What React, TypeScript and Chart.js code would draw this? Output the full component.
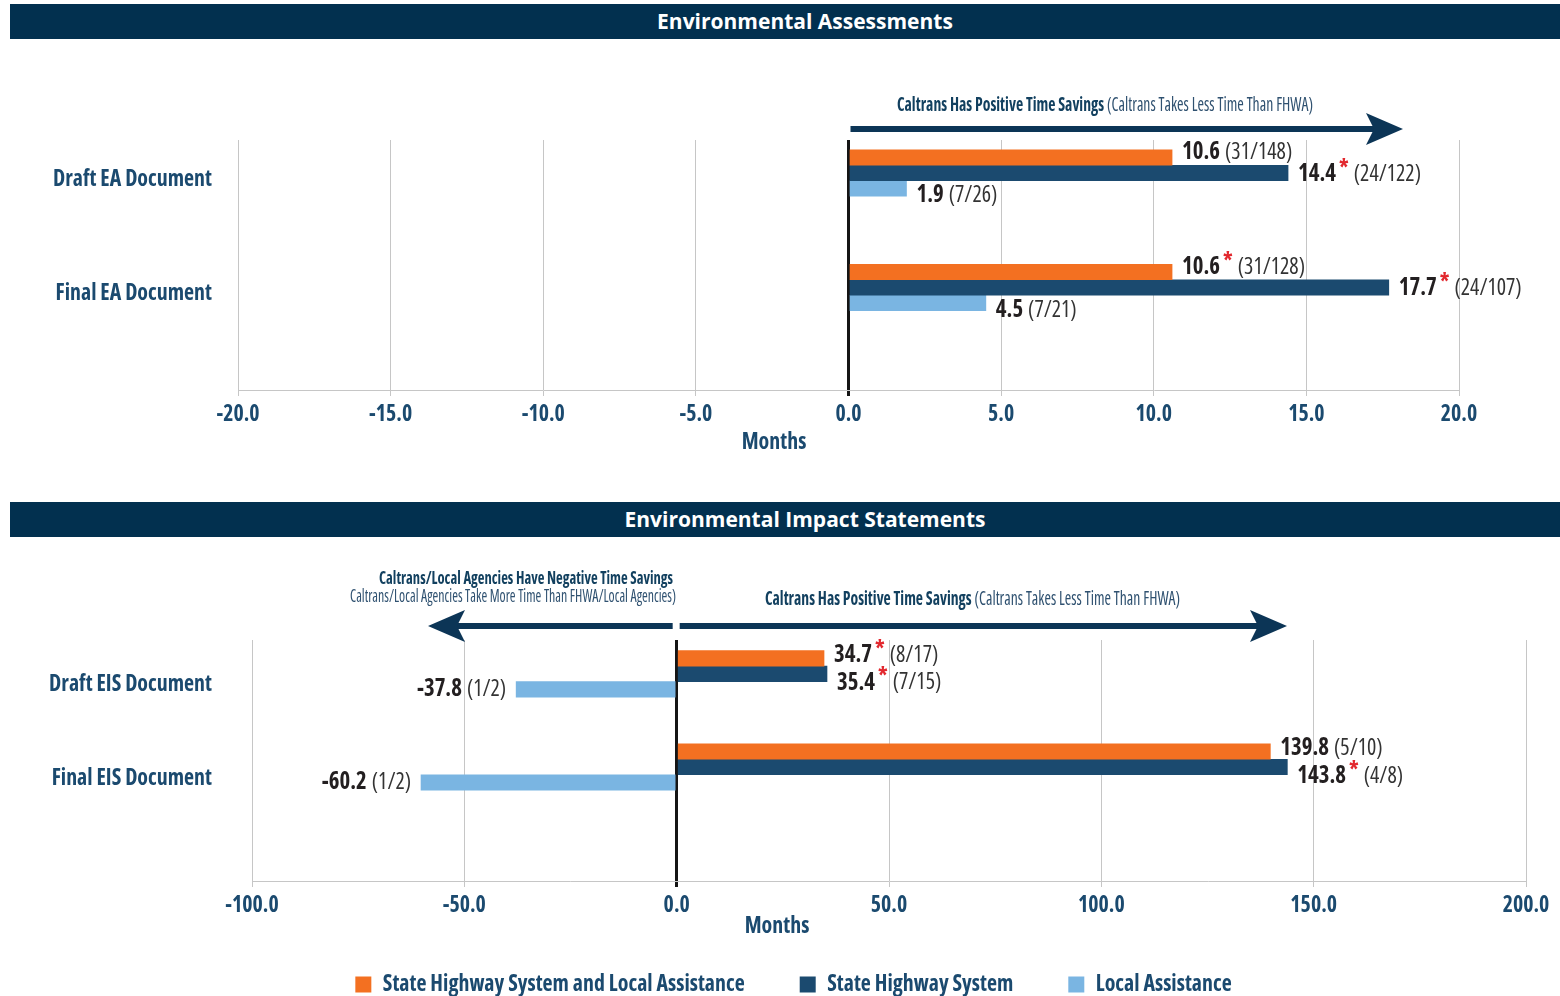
import React, { useEffect, useRef } from 'react';
import { Chart, registerables } from 'chart.js';

Chart.register(...registerables);

const BASE = "'Open Sans', 'Noto Sans', 'DejaVu Sans', sans-serif";

// detect a real condensed face (variable width axis) and compute horizontal squeeze
function detectFontSetup() {
  let stretch = '';
  let sx = 0.75;
  try {
    const c = document.createElement('canvas').getContext('2d') as CanvasRenderingContext2D;
    c.font = `bold 23px ${BASE}`;
    const w = c.measureText('Draft EA Document').width;
    c.font = `bold condensed 23px ${BASE}`;
    const wc = c.measureText('Draft EA Document').width;
    if (wc > 0 && wc < w * 0.95) stretch = 'condensed ';
    const used = stretch ? wc : w;
    if (used > 0) sx = 159 / used;
  } catch (e) {
    /* keep defaults */
  }
  return { stretch, sx };
}
const FONT_SETUP = detectFontSetup();
const STRETCH = FONT_SETUP.stretch;
const SX = FONT_SETUP.sx;
const BOLD_W = `bold ${STRETCH}`.trim();

const bold = (s: number) => `bold ${STRETCH}${s}px ${BASE}`;
const reg = (s: number) => `${STRETCH}${s}px ${BASE}`;

// ---------- shared series ----------
const seriesNames = ['State Highway System and Local Assistance', 'State Highway System', 'Local Assistance'];
const seriesColors = ['#f37021', '#1b4a6f', '#7ab5e2'];

// ---------- Environmental Assessments ----------
const eaCategories = ['Draft EA Document', 'Final EA Document'];
const eaSHSLA = [10.6, 10.6];
const eaSHS = [14.4, 17.7];
const eaLA = [1.9, 4.5];
const eaSHSLACounts = ['(31/148)', '(31/128)'];
const eaSHSCounts = ['(24/122)', '(24/107)'];
const eaLACounts = ['(7/26)', '(7/21)'];
const eaSHSLASig = [false, true];
const eaSHSSig = [true, true];
const eaLASig = [false, false];
const eaAxisMin = -20;
const eaAxisMax = 20;
const eaAxisStep = 5;

// ---------- Environmental Impact Statements ----------
const eisCategories = ['Draft EIS Document', 'Final EIS Document'];
const eisSHSLA = [34.7, 139.8];
const eisSHS = [35.4, 143.8];
const eisLA = [-37.8, -60.2];
const eisSHSLACounts = ['(8/17)', '(5/10)'];
const eisSHSCounts = ['(7/15)', '(4/8)'];
const eisLACounts = ['(1/2)', '(1/2)'];
const eisSHSLASig = [true, false];
const eisSHSSig = [true, true];
const eisLASig = [false, false];
const eisAxisMin = -100;
const eisAxisMax = 200;
const eisAxisStep = 50;

const TEXT_NAVY = '#1b4a6f';
const CAPTION_NAVY = '#12405f';
const LABEL_DARK = '#231f20';
const STAR_RED = '#e2282e';

// horizontally condense every text drawn on a chart canvas
function condenseContext(ctx: any, sx: number) {
  if (ctx.__condensed) return;
  ctx.__condensed = true;
  const origFill = ctx.fillText.bind(ctx);
  const origMeasure = ctx.measureText.bind(ctx);
  ctx.fillText = (text: string, x: number, y: number) => {
    ctx.save();
    ctx.translate(x, y);
    ctx.scale(sx, 1);
    origFill(text, 0, 0);
    ctx.restore();
  };
  ctx.measureText = (text: string) => {
    const m = origMeasure(text);
    return {
      width: m.width * sx,
      actualBoundingBoxAscent: m.actualBoundingBoxAscent,
      actualBoundingBoxDescent: m.actualBoundingBoxDescent,
      actualBoundingBoxLeft: m.actualBoundingBoxLeft * sx,
      actualBoundingBoxRight: m.actualBoundingBoxRight * sx,
      fontBoundingBoxAscent: m.fontBoundingBoxAscent,
      fontBoundingBoxDescent: m.fontBoundingBoxDescent,
    };
  };
}

type Part = { text: string; font: string; color: string; dx?: number; dy?: number };

function drawRich(ctx: CanvasRenderingContext2D, parts: Part[], x: number, y: number, align: 'left' | 'right' | 'center', width?: number) {
  ctx.save();
  ctx.textBaseline = 'middle';
  ctx.textAlign = 'left';
  let total = 0;
  const widths = parts.map((p) => {
    ctx.font = p.font;
    const w = ctx.measureText(p.text).width;
    total += w + (p.dx || 0);
    return w;
  });
  const k = width ? width / total : 1;
  const realW = total * k;
  let start = x;
  if (align === 'right') start = x - realW;
  if (align === 'center') start = x - realW / 2;
  ctx.translate(start, y);
  ctx.scale(k, 1);
  let cx = 0;
  parts.forEach((p, i) => {
    cx += p.dx || 0;
    ctx.font = p.font;
    ctx.fillStyle = p.color;
    ctx.fillText(p.text, cx, p.dy || 0);
    cx += widths[i];
  });
  ctx.restore();
}

const barLabelPlugin = {
  id: 'barLabels',
  afterDatasetsDraw(chart: any, _args: any, opts: any) {
    const ctx = chart.ctx as CanvasRenderingContext2D;
    chart.data.datasets.forEach((ds: any, di: number) => {
      const meta = chart.getDatasetMeta(di);
      meta.data.forEach((bar: any, i: number) => {
        const v = ds.data[i].x as number;
        const parts: Part[] = [{ text: v.toFixed(1), font: bold(24), color: LABEL_DARK }];
        const sig = opts.sig[di][i];
        if (sig) parts.push({ text: '*', font: bold(23), color: STAR_RED, dx: 3, dy: -5 });
        parts.push({ text: opts.counts[di][i], font: reg(23), color: '#333333', dx: 5 });
        const y = bar.y + opts.dy[di];
        if (v >= 0) drawRich(ctx, parts, bar.x + 10, y, 'left');
        else drawRich(ctx, parts, bar.x - 10, y, 'right');
      });
    });
  },
};

function drawArrow(ctx: CanvasRenderingContext2D, x1: number, x2: number, y: number, color: string) {
  const dir = x2 > x1 ? 1 : -1;
  const headLen = 37;
  const inner = 29;
  const half = 16;
  ctx.save();
  ctx.fillStyle = color;
  ctx.fillRect(Math.min(x1, x2 - dir * inner), y - 3, Math.abs(x2 - dir * inner - x1), 6);
  ctx.beginPath();
  ctx.moveTo(x2, y);
  ctx.lineTo(x2 - dir * headLen, y - half);
  ctx.lineTo(x2 - dir * inner, y);
  ctx.lineTo(x2 - dir * headLen, y + half);
  ctx.closePath();
  ctx.fill();
  ctx.restore();
}

const decorPlugin = {
  id: 'decor',
  afterDraw(chart: any, _args: any, opts: any) {
    const ctx = chart.ctx as CanvasRenderingContext2D;
    const x0 = chart.scales.x.getPixelForValue(0);
    (opts.arrows || []).forEach((a: any) => {
      drawArrow(ctx, x0 + a.fromZero, a.tip, a.y, '#0c3556');
    });
    (opts.captions || []).forEach((c: any) => {
      drawRich(ctx, c.parts, c.x, c.y, c.align, c.width);
    });
    if (opts.months) {
      drawRich(ctx, [{ text: 'Months', font: bold(23), color: TEXT_NAVY }], opts.months.x, chart.chartArea.bottom + opts.months.dy, 'center');
    }
  },
};

type Panel = {
  categories: string[];
  series: number[][];
  counts: string[][];
  sig: boolean[][];
  min: number;
  max: number;
  step: number;
  yMin: number;
  yMax: number;
  padTop: number;
  padRight: number;
  padLeft: number;
  rightGutter: number;
  yAxisWidth: number;
  yLabelPad: number;
  yLabelOffset: number;
  xAxisHeight: number;
  labelDy: number[];
  legend: boolean;
  decor: any;
};

function makeConfig(p: Panel): any {
  const scales: any = {
    x: {
      type: 'linear',
      min: p.min,
      max: p.max,
      ticks: {
        stepSize: p.step,
        callback: (v: any) => Number(v).toFixed(1),
        font: { family: BASE, size: 23, weight: BOLD_W },
        color: TEXT_NAVY,
        padding: 5,
        maxRotation: 0,
      },
      grid: {
        color: (c: any) => (c.tick && c.tick.value === 0 ? '#151515' : '#c6c6c6'),
        lineWidth: (c: any) => (c.tick && c.tick.value === 0 ? 3 : 1),
        tickLength: 6,
      },
      border: { display: true, color: '#c6c6c6', width: 1 },
      afterFit: (s: any) => {
        s.height = p.xAxisHeight;
      },
    },
    y: {
      type: 'linear',
      reverse: true,
      offset: false,
      min: p.yMin,
      max: p.yMax,
      afterBuildTicks: (s: any) => {
        s.ticks = p.categories.map((_, i) => ({ value: i + 1 }));
      },
      ticks: {
        autoSkip: false,
        callback: (v: any) => p.categories[Math.round(Number(v)) - 1] || '',
        font: { family: BASE, size: 23, weight: BOLD_W },
        color: TEXT_NAVY,
        padding: p.yLabelPad,
        labelOffset: p.yLabelOffset,
      },
      grid: { display: false, drawTicks: false, offset: false },
      border: { display: false },
      afterFit: (s: any) => {
        s.width = p.yAxisWidth;
      },
    },
  };
  if (p.rightGutter > 0) {
    // empty right-hand gutter so the legend can be centred independently of the plot
    scales.gutter = {
      type: 'linear',
      axis: 'y',
      position: 'right',
      display: true,
      ticks: { display: false },
      grid: { display: false, drawTicks: false },
      border: { display: false },
      afterFit: (s: any) => {
        s.width = p.rightGutter;
      },
    };
  }
  return {
    type: 'bar',
    data: {
      datasets: p.series.map((vals, si) => ({
        label: seriesNames[si],
        data: vals.map((v, i) => ({ x: v, y: i + 1 })),
        backgroundColor: seriesColors[si],
        borderWidth: 0,
        barThickness: 15.5,
        xAxisID: 'x',
        yAxisID: 'y',
      })),
    },
    options: {
      indexAxis: 'y',
      animation: false,
      responsive: true,
      maintainAspectRatio: false,
      events: [],
      layout: { padding: { top: p.padTop, right: p.padRight, left: p.padLeft, bottom: 0 } },
      scales,
      plugins: {
        tooltip: { enabled: false },
        legend: p.legend
          ? {
              display: true,
              position: 'bottom',
              labels: {
                boxWidth: 16,
                boxHeight: 16,
                padding: 55,
                color: TEXT_NAVY,
                font: { family: BASE, size: 23, weight: BOLD_W },
              },
            }
          : { display: false },
        barLabels: { counts: p.counts, sig: p.sig, dy: p.labelDy },
        decor: p.decor,
      },
    },
    plugins: [barLabelPlugin, decorPlugin],
  };
}

const eaPanel: Panel = {
  categories: eaCategories,
  series: [eaSHSLA, eaSHS, eaLA],
  counts: [eaSHSLACounts, eaSHSCounts, eaLACounts],
  sig: [eaSHSLASig, eaSHSSig, eaLASig],
  min: eaAxisMin,
  max: eaAxisMax,
  step: eaAxisStep,
  yMin: 0.712,
  yMax: 2.895,
  padTop: 100,
  padRight: 101,
  padLeft: 0,
  rightGutter: 0,
  yAxisWidth: 238,
  yLabelPad: 26,
  yLabelOffset: 6,
  xAxisHeight: 70,
  labelDy: [-5, 1, 7],
  legend: false,
  decor: {
    arrows: [{ fromZero: 2, tip: 1403, y: 89 }],
    captions: [
      {
        x: 897,
        y: 66,
        align: 'left',
        width: 416,
        parts: [
          { text: 'Caltrans Has Positive Time Savings', font: bold(19), color: CAPTION_NAVY },
          { text: ' (Caltrans Takes Less Time Than FHWA)', font: reg(19), color: '#2f5170' },
        ],
      },
    ],
    months: { x: 774, dy: 52 },
  },
};

const eisPanel: Panel = {
  categories: eisCategories,
  series: [eisSHSLA, eisSHS, eisLA],
  counts: [eisSHSLACounts, eisSHSCounts, eisLACounts],
  sig: [eisSHSLASig, eisSHSSig, eisLASig],
  min: eisAxisMin,
  max: eisAxisMax,
  step: eisAxisStep,
  yMin: 0.636,
  yMax: 3.225,
  padTop: 102,
  padRight: 0,
  padLeft: 27,
  rightGutter: 34,
  yAxisWidth: 225,
  yLabelPad: 40,
  yLabelOffset: 11,
  xAxisHeight: 37,
  labelDy: [-3, 9, 0],
  legend: true,
  decor: {
    arrows: [
      { fromZero: -4, tip: 428, y: 88 },
      { fromZero: 3, tip: 1287, y: 88 },
    ],
    captions: [
      {
        x: 673,
        y: 41,
        align: 'right',
        width: 294,
        parts: [{ text: 'Caltrans/Local Agencies Have Negative Time Savings', font: bold(18), color: CAPTION_NAVY }],
      },
      {
        x: 676,
        y: 59,
        align: 'right',
        width: 326,
        parts: [{ text: 'Caltrans/Local Agencies Take More Time Than FHWA/Local Agencies)', font: reg(18), color: '#2f5170' }],
      },
      {
        x: 765,
        y: 62,
        align: 'left',
        width: 415,
        parts: [
          { text: 'Caltrans Has Positive Time Savings', font: bold(19), color: CAPTION_NAVY },
          { text: ' (Caltrans Takes Less Time Than FHWA)', font: reg(19), color: '#2f5170' },
        ],
      },
    ],
    months: { x: 777, dy: 45 },
  },
};

function ChartBox({ panel, top, height }: { panel: Panel; top: number; height: number }) {
  const ref = useRef<HTMLCanvasElement | null>(null);
  useEffect(() => {
    if (!ref.current) return;
    const ctx = ref.current.getContext('2d');
    condenseContext(ctx, SX);
    const chart = new Chart(ref.current, makeConfig(panel));
    return () => chart.destroy();
  }, [panel]);
  return (
    <div style={{ position: 'absolute', left: 0, top, width: 1560, height }}>
      <canvas ref={ref} />
    </div>
  );
}

function Header({ top, text }: { top: number; text: string }) {
  return (
    <div
      style={{
        position: 'absolute',
        left: 10,
        top,
        width: 1550,
        height: 35,
        background: '#02304f',
        color: '#ffffff',
        fontFamily: BASE,
        fontWeight: 700,
        fontSize: 21,
        lineHeight: '35px',
        textAlign: 'center',
        paddingLeft: 40,
        boxSizing: 'border-box',
      }}
    >
      {text}
    </div>
  );
}

export default function App() {
  return (
    <div style={{ position: 'absolute', left: 0, top: 0, width: 1560, height: 996, overflow: 'hidden', background: '#ffffff' }}>
      <Header top={4} text="Environmental Assessments" />
      <ChartBox panel={eaPanel} top={40} height={420} />
      <Header top={502} text="Environmental Impact Statements" />
      <ChartBox panel={eisPanel} top={538} height={468} />
    </div>
  );
}
